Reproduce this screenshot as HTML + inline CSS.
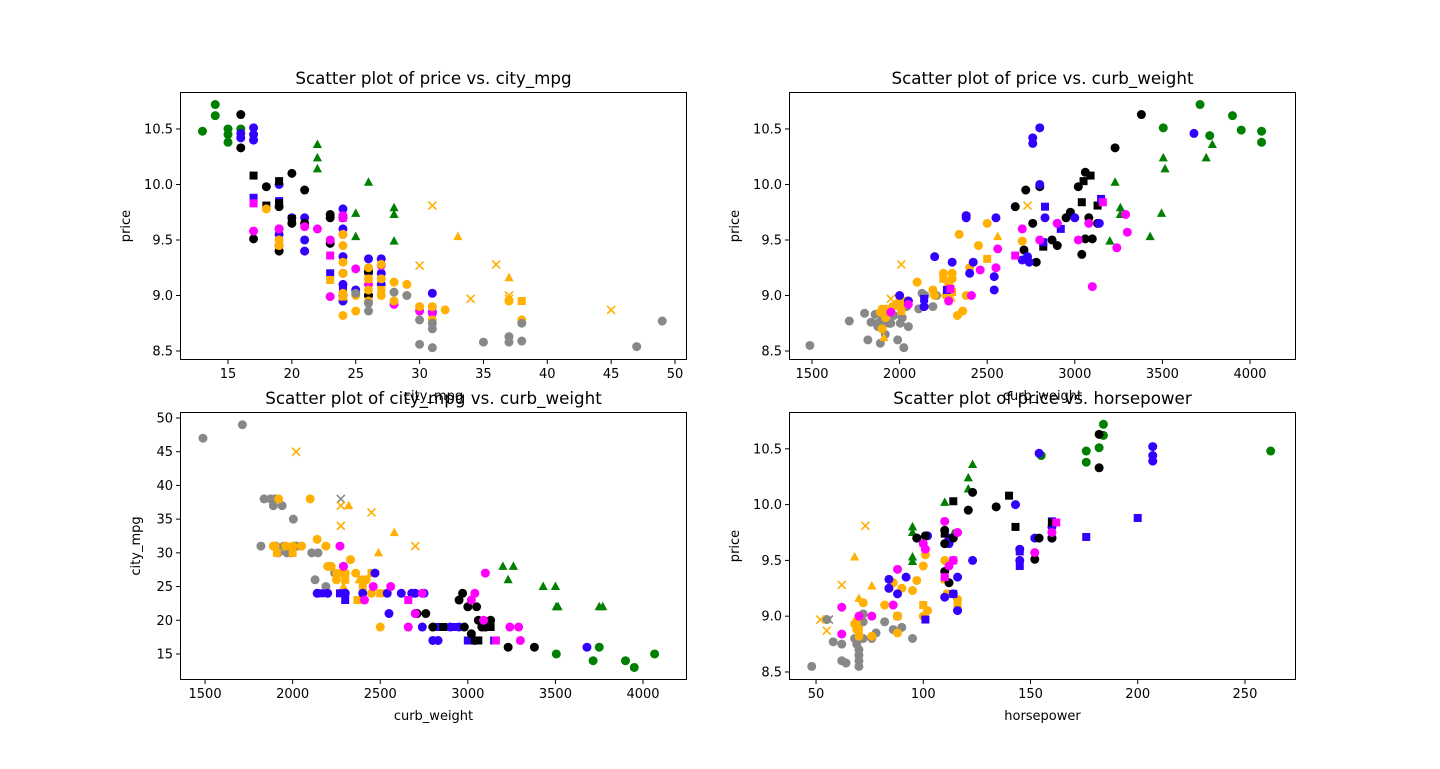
<!DOCTYPE html>
<html><head><meta charset="utf-8"><style>
html,body{margin:0;padding:0;background:#fff;}
svg text{font-family:"DejaVu Sans","Liberation Sans",sans-serif;fill:#000;}
</style></head><body>
<svg id="fig" width="1440" height="764" xmlns="http://www.w3.org/2000/svg"></svg>
<script>
// ---- data: each group = [style, xValues, yValues] ----
const titles = ["Scatter plot of price vs. city_mpg","Scatter plot of price vs. curb_weight","Scatter plot of city_mpg vs. curb_weight","Scatter plot of price vs. horsepower"];
const xLabels = ["city_mpg","curb_weight","curb_weight","horsepower"];
const yLabels = ["price","price","city_mpg","price"];
const xTicks1 = [15,20,25,30,35,40,45,50];
const xTicksW = [1500,2000,2500,3000,3500,4000];
const xTicksH = [50,100,150,200,250];
const yTicksP = [8.5,9.0,9.5,10.0,10.5];
const yTicksM = [15,20,25,30,35,40,45,50];
const colors = {g:"#008000",b:"#3300ff",k:"#000000",m:"#ff00ff",o:"#ffb000",a:"#888888"};

const P1 = [
["go",[13,14,14,15,15,15,16],[10.48,10.72,10.62,10.5,10.45,10.38,10.5]],
["g^",[22,22,22,26,25,25,28,28,28],[10.36,10.24,10.14,10.02,9.74,9.53,9.79,9.73,9.49]],
["bo",[16,16,17,17,17,19,19,19,20,21,21,21,24,24,24,24,24,24,25,26,26,27,27,27,31,31,26,24,19],[10.46,10.42,10.51,10.45,10.4,10.0,9.6,9.55,9.7,9.7,9.5,9.4,9.78,9.6,9.35,9.2,9.1,9.0,9.05,9.33,9.2,9.33,9.2,9.1,9.02,8.85,9.0,8.95,9.45]],
["bs",[17,19,23,24,24],[9.88,9.85,9.2,9.05,8.97]],
["ko",[16,16,17,18,19,19,20,20,21,21,23,23,23,24,26,26],[10.63,10.33,9.51,9.98,9.4,9.8,10.1,9.65,9.95,9.65,9.73,9.7,9.47,9.7,9.0,9.22]],
["ks",[17,18,19,19,20],[10.08,9.81,10.03,9.83,9.69]],
["mo",[17,19,19,21,23,23,24,24,25,26,27,28,30,31,22],[9.58,9.6,9.45,9.62,9.5,8.99,9.72,9.55,9.24,9.1,9.27,8.92,8.86,8.84,9.6]],
["ms",[17,23,24],[9.83,9.36,9.7]],
["oo",[18,19,19,24,24,24,24,24,24,25,25,26,26,26,27,27,28,28,29,29,30,31,31,32,38,37,26,27],[9.78,9.5,9.45,9.45,9.55,9.3,9.2,9.02,8.82,9.0,8.86,9.25,9.15,9.05,9.15,9.0,9.12,8.95,9.1,9.0,8.9,8.9,8.78,8.87,8.78,8.95,8.95,9.28]],
["os",[23,24,26,27,38],[9.14,8.99,9.15,9.05,8.95]],
["ox",[31,30,36,34,37,37,45],[9.81,9.27,9.28,8.97,8.97,9.0,8.87]],
["o^",[33,37],[9.53,9.16]],
["ao",[26,26,28,29,30,30,31,31,31,35,37,37,38,38,47,49,25],[8.93,8.86,9.03,9.0,8.78,8.56,8.7,8.75,8.53,8.58,8.63,8.58,8.59,8.75,8.54,8.77,9.02]]
];
const P2 = [
["ao",[1488,1713,1819,1837,1874,1876,1890,1900,1905,1918,1940,1950,1967,1989,2004,2015,2024,2040,2050,2109,2128,2145,2190,2211,1800,1860],[8.55,8.77,8.6,8.76,8.75,8.72,8.57,8.8,8.74,8.65,8.75,8.75,8.82,8.6,8.75,8.8,8.53,8.9,8.72,8.88,9.02,9.0,8.9,9.0,8.84,8.83]],
["oo",[1890,1900,1920,1950,1960,1980,2000,2050,2100,2200,2250,2280,2300,2330,2340,2360,2380,2400,2450,2500,2700,2300,2265,2190,2040],[8.85,8.7,8.8,8.85,8.9,8.92,8.9,8.95,9.12,9.0,9.2,9.1,9.2,8.82,9.55,8.86,9.0,9.25,9.45,9.65,9.49,9.15,9.0,9.05,8.95]],
["os",[1910,2000,2250,2300,2500,2010],[8.88,8.95,9.15,9.03,9.33,8.86]],
["ox",[1950,1900,2010,2730,2290,2295],[8.97,8.87,9.28,9.81,9.0,8.98]],
["o^",[1910,2290,2560],[8.62,9.16,9.53]],
["go",[3505,3715,3770,3900,3950,4066,4066],[10.51,10.72,10.44,10.62,10.49,10.48,10.38]],
["g^",[3230,3260,3260,3200,3430,3495,3505,3515,3750,3785],[10.02,9.79,9.73,9.49,9.53,9.74,10.24,10.14,10.24,10.36]],
["ko",[2710,2720,2760,2800,2900,2950,2975,3020,3040,3060,3060,3080,3100,3130,3230,3380,2660,2870,2780],[9.41,9.95,9.65,9.98,9.45,9.7,9.75,9.98,9.37,10.11,9.51,9.7,9.51,9.65,10.33,10.63,9.8,9.5,9.3]],
["ks",[3040,3050,3090,3130,2820],[9.84,10.03,10.08,9.81,9.44]],
["bo",[2000,2050,2140,2200,2300,2380,2380,2400,2420,2540,2540,2550,2700,2730,2740,2760,2760,2800,2800,2830,3000,3140,3680,2900],[9.0,8.95,8.9,9.35,9.3,9.7,9.72,9.2,9.3,9.05,9.17,9.7,9.32,9.35,9.3,10.37,10.42,10.51,10.0,9.7,9.7,9.65,10.46,9.65]],
["bs",[2140,2270,2830,2820,2920,3150],[8.97,9.05,9.8,9.48,9.6,9.87]],
["mo",[1950,2050,2280,2410,2460,2560,2700,2900,3020,3080,3100,3240,3290,3300,2550,2800],[8.85,8.92,8.95,9.0,9.23,9.42,9.6,9.65,9.5,9.65,9.08,9.43,9.73,9.57,9.25,9.5]],
["ms",[2660,3160,2290],[9.36,9.84,9.06]]
];
const P3 = [
["ao",[1488,1713,1819,1837,1874,1890,1900,1905,1918,1940,1950,1967,1989,2004,2015,2024,2050,2109,2128,2145,2190,2211,2240,2290],[47,49,31,38,38,37,38,31,30,37,31,30,30,35,31,31,31,30,26,30,25,28,27,28]],
["ax",[2275],[38]],
["oo",[1890,1900,1920,1960,2000,2050,2100,2140,2190,2200,2220,2250,2280,2300,2330,2360,2400,2420,2450,2500,2660,2300],[31,31,38,31,31,31,38,32,31,28,28,26,27,27,29,27,26,26,24,19,19,24]],
["os",[1910,2000,2250,2300,2400,2450,2500,2370],[30,30,27,26,25,27,24,23]],
["ox",[2020,2275,2275,2450,2700],[45,37,34,36,31]],
["o^",[2320,2490,2580,2290,2380],[37,30,33,25,26]],
["go",[3505,3715,3750,3900,3950,4066],[15,14,16,14,13,15]],
["g^",[3200,3230,3260,3430,3500,3505,3515,3750,3770],[28,26,28,25,25,22,22,22,22]],
["bo",[2140,2200,2300,2400,2470,2540,2550,2700,2750,2800,2830,2900,2950,3040,3100,2620,2700,2680,3680,2300,2740],[24,24,24,24,27,24,21,21,24,17,17,19,19,17,19,24,24,24,16,24,19]],
["bs",[2160,2270,2300,2820,2920,3000,3150],[24,24,23,19,19,17,17]],
["ko",[2710,2760,2800,2950,2970,2980,3000,3020,3060,3080,3100,3130,3230,3380,3050],[21,21,19,23,24,19,22,18,20,19,19,20,16,16,22]],
["ks",[2860,3040,3060,3130,3090],[19,17,17,19,19]],
["mo",[2270,2290,2410,2460,2560,2660,2700,2740,3020,3040,3100,3240,3290,3300,3090],[31,28,23,25,25,19,21,24,23,24,27,19,19,17,20]],
["ms",[2660,3160],[23,17]]
];
const P4 = [
["ao",[48,55,58,62,62,64,68,69,70,70,70,70,72,72,72,76,78,82,86,88,90,95],[8.55,8.97,8.77,8.6,8.75,8.58,8.8,8.75,8.7,8.6,8.55,8.65,8.8,8.95,9.02,8.8,8.85,8.95,8.88,9.0,8.9,8.8]],
["ax",[56],[8.97]],
["oo",[68,69,70,72,76,82,84,86,88,90,95,97,100,101,102,110,111,116,100],[8.93,8.88,8.82,9.12,8.82,9.1,9.25,9.3,8.85,9.25,9.23,9.32,9.45,9.55,9.05,9.5,9.2,9.15,9.0]],
["os",[69,88,100,110,116,70],[8.95,9.0,9.1,9.33,9.1,8.88]],
["ox",[52,55,62,73],[8.97,8.87,9.28,9.81]],
["o^",[68,76,70],[9.53,9.27,9.16]],
["go",[176,176,182,184,184,262,155],[10.48,10.38,10.51,10.72,10.62,10.48,10.44]],
["g^",[95,95,95,95,110,114,121,121,123],[9.8,9.75,9.53,9.49,10.02,9.74,10.24,10.14,10.36]],
["bo",[84,84,88,92,97,102,110,114,116,116,123,145,145,152,154,160,160,207,207,207,143,112,112],[9.33,9.25,9.2,9.35,9.7,9.72,9.17,9.2,9.35,9.05,9.5,9.6,9.5,9.7,10.46,9.7,9.8,10.52,10.44,10.39,10.0,9.65,9.7]],
["bs",[101,114,145,145,160,176,200],[8.97,9.2,9.45,9.58,9.85,9.71,9.88]],
["ko",[97,101,110,110,110,114,121,123,134,152,154,160,182,182,112],[9.7,9.72,9.65,9.77,9.4,9.7,9.95,10.11,9.98,9.51,9.7,9.7,10.63,10.33,9.3]],
["ks",[114,140,143,160,110],[10.03,10.08,9.8,9.84,9.74]],
["mo",[62,62,70,76,86,88,100,110,112,114,116,152,160,101],[8.84,9.08,9.0,9.0,9.1,9.42,9.65,9.85,9.45,9.5,9.75,9.57,9.75,9.6]],
["ms",[114,110,162],[9.5,9.35,9.84]]
];

const NS = "http://www.w3.org/2000/svg";
const fig = document.getElementById('fig');
function mk(tag, attrs, parent){const e=document.createElementNS(NS,tag);for(const k in attrs)e.setAttribute(k,attrs[k]);(parent||fig).appendChild(e);return e;}

const panels = [
 {box:[180,92,687,360], xr:[11.24,50.94], yr:[8.419,10.833], xt:xTicks1, yt:yTicksP, data:P1, yfmt:v=>v.toFixed(1)},
 {box:[789,92,1296,360], xr:[1368.7,4262.6], yr:[8.419,10.833], xt:xTicksW, yt:yTicksP, data:P2, yfmt:v=>v.toFixed(1)},
 {box:[180,412,687,680], xr:[1357,4251], yr:[11.14,50.89], xt:xTicksW, yt:yTicksM, data:P3, yfmt:v=>String(v)},
 {box:[789,412,1296,680], xr:[37.4,273.8], yr:[8.428,10.83], xt:xTicksH, yt:yTicksP, data:P4, yfmt:v=>v.toFixed(1)}
];

panels.forEach((p,i)=>{
  const [L,T,R,B]=p.box;
  const g=mk('g',{});
  
  
  const sx=v=>L+(v-p.xr[0])/(p.xr[1]-p.xr[0])*(R-L);
  const sy=v=>B-(v-p.yr[0])/(p.yr[1]-p.yr[0])*(B-T);
  const pts=mk('g',{},g);
  
  
  p.data.forEach(ser=>{
    const col=colors[ser[0][0]], m=ser[0][1];
    ser[1].forEach((xv,j)=>{
      const x=sx(xv), y=sy(ser[2][j]); let e;
      if(m==='o') e=mk('circle',{cx:x,cy:y,r:4.5,fill:col},pts);
      else if(m==='s') e=mk('rect',{x:x-4,y:y-4,width:8,height:8,fill:col},pts);
      else if(m==='^') e=mk('polygon',{points:`${x},${y-5} ${x-4.6},${y+3.5} ${x+4.6},${y+3.5}`,fill:col},pts);
      else e=mk('path',{d:`M${x-4},${y-4}L${x+4},${y+4}M${x-4},${y+4}L${x+4},${y-4}`,stroke:col,'stroke-width':1.6,fill:'none'},pts);
      
      
    });
  });
  const frame=mk('rect',{x:L+0.5,y:T+0.5,width:R-L-1,height:B-T-1,fill:'none',stroke:'#000','stroke-width':1},g);
  
  
  p.xt.forEach(v=>{
    const x=sx(v);
    mk('line',{x1:x,y1:B,x2:x,y2:B+4,stroke:'#000'},g);
    const t=mk('text',{x:x,y:B+18,'font-size':13,'text-anchor':'middle'},g);t.textContent=String(v);
    
    
  });
  p.yt.forEach(v=>{
    const y=sy(v);
    mk('line',{x1:L,y1:y,x2:L-4,y2:y,stroke:'#000'},g);
    const t=mk('text',{x:L-7,y:y+4.5,'font-size':13,'text-anchor':'end'},g);t.textContent=p.yfmt(v);
    
    
  });
  const tt=mk('text',{x:(L+R)/2,y:T-8,'font-size':16.7,'text-anchor':'middle'},g);tt.textContent=titles[i];
  
  
  const xl=mk('text',{x:(L+R)/2,y:B+40,'font-size':13,'text-anchor':'middle'},g);xl.textContent=xLabels[i];
  
  
  const yx=(i===2)?L-40:L-50;
  const yl=mk('text',{x:yx,y:(T+B)/2,'font-size':13,'text-anchor':'middle',transform:`rotate(-90 ${yx} ${(T+B)/2})`},g);yl.textContent=yLabels[i];
  
  
});
</script>
</body></html>
